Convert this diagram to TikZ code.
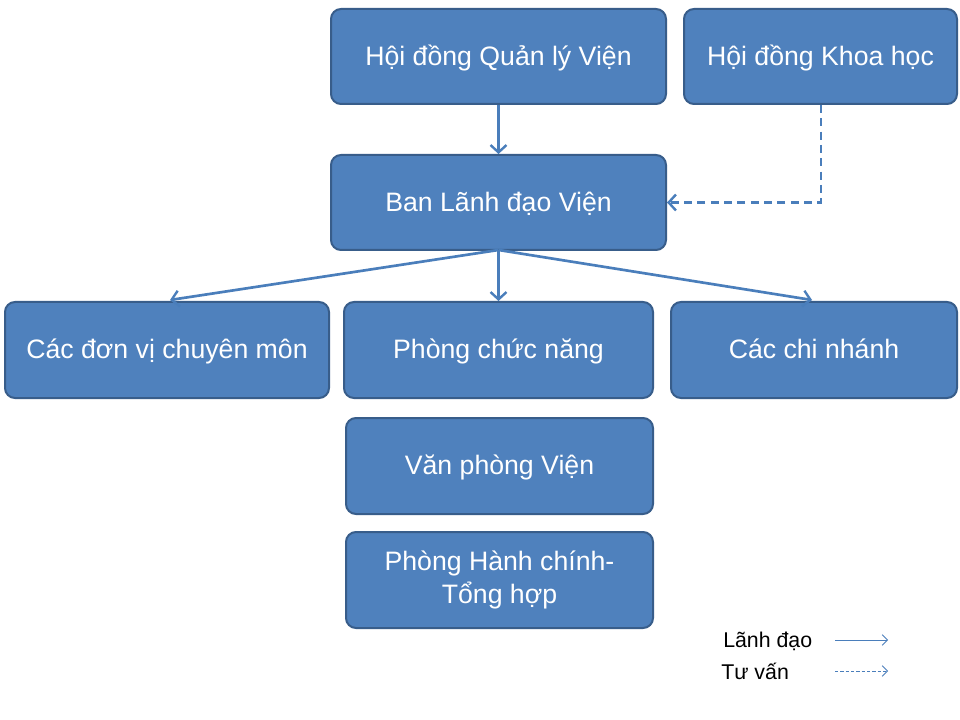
\documentclass[tikz,border=0pt]{standalone}
\usepackage{fontspec}
\setmainfont{Liberation Sans}
\usetikzlibrary{arrows.meta}
\definecolor{boxfill}{HTML}{4F81BD}
\definecolor{boxline}{HTML}{385D8A}
\definecolor{arrowcol}{HTML}{4A7EBB}
\tikzset{
  orgbox/.style={draw=boxline, line width=1.5pt, fill=boxfill, rounded corners=7.5pt,
    text=white, font=\fontsize{20}{25}\selectfont, align=center, inner sep=0pt,
    text height=14.5pt, text depth=1.5pt},
  lead/.style={draw=arrowcol, line width=2pt, -{Straight Barb[length=5.5pt,width=12pt,line width=1.8pt]}},
  advise/.style={lead, dash pattern=on 6pt off 4pt},
  leglead/.style={draw=arrowcol, line width=0.6pt, -{Straight Barb[length=4pt,width=8pt,line width=0.6pt]}},
  legadvise/.style={leglead, dash pattern=on 2.5pt off 1.5pt},
  legtext/.style={font=\fontsize{16}{19}\selectfont, text=black, inner sep=0pt, anchor=west}
}
\begin{document}
\begin{tikzpicture}[x=0.75pt,y=-0.75pt]
\useasboundingbox (0,0) rectangle (960,720);
\fill[white] (0,0) rectangle (960,720);
\node[orgbox, minimum width=251.25pt, minimum height=71.25pt] (qly) at (498.5,56.5) {Hội đồng Quản lý Viện};
\node[orgbox, minimum width=204.75pt, minimum height=71.25pt] (khh) at (820.5,56.5) {Hội đồng Khoa học};
\node[orgbox, minimum width=251.25pt, minimum height=71.25pt] (ldv) at (498.5,202.5) {Ban Lãnh đạo Viện};
\node[orgbox, minimum width=243pt, minimum height=72pt] (dvcm) at (167,350) {Các đơn vị chuyên môn};
\node[orgbox, minimum width=231.75pt, minimum height=72pt] (pcn) at (498.5,350) {Phòng chức năng};
\node[orgbox, minimum width=214.5pt, minimum height=72pt] (cn) at (814,350) {Các chi nhánh};
\node[orgbox, minimum width=230.25pt, minimum height=72pt] (vpv) at (499.5,466) {Văn phòng Viện};
\node[orgbox, minimum width=230.25pt, minimum height=72pt, text height={}, text depth={}] (hcth) at (499.5,580) {Phòng Hành chính-\\Tổng hợp};

\coordinate (ldvb) at (498.5,250);
\coordinate (dvcmt) at (170,300);
\coordinate (cnt) at (812,300);
\coordinate (corner) at (821,202.5);

\draw[lead] (qly.south) -- (ldv.north);
\draw[lead] (ldvb) -- (dvcmt);
\draw[lead] (ldvb) -- (pcn.north);
\draw[lead] (ldvb) -- (cnt);
\draw[advise] (khh.south -| corner) -- (corner) -- (ldv.east);

\node[legtext] (leg1) at (723,641) {Lãnh đạo};
\node[legtext] (leg2) at (721,671) {Tư vấn};
\coordinate (l1a) at (835,640);
\coordinate (l1b) at (888,640);
\coordinate (l2a) at (835,671);
\coordinate (l2b) at (888,671);
\draw[leglead] (l1a) -- (l1b);
\draw[legadvise] (l2a) -- (l2b);
\end{tikzpicture}
\end{document}
